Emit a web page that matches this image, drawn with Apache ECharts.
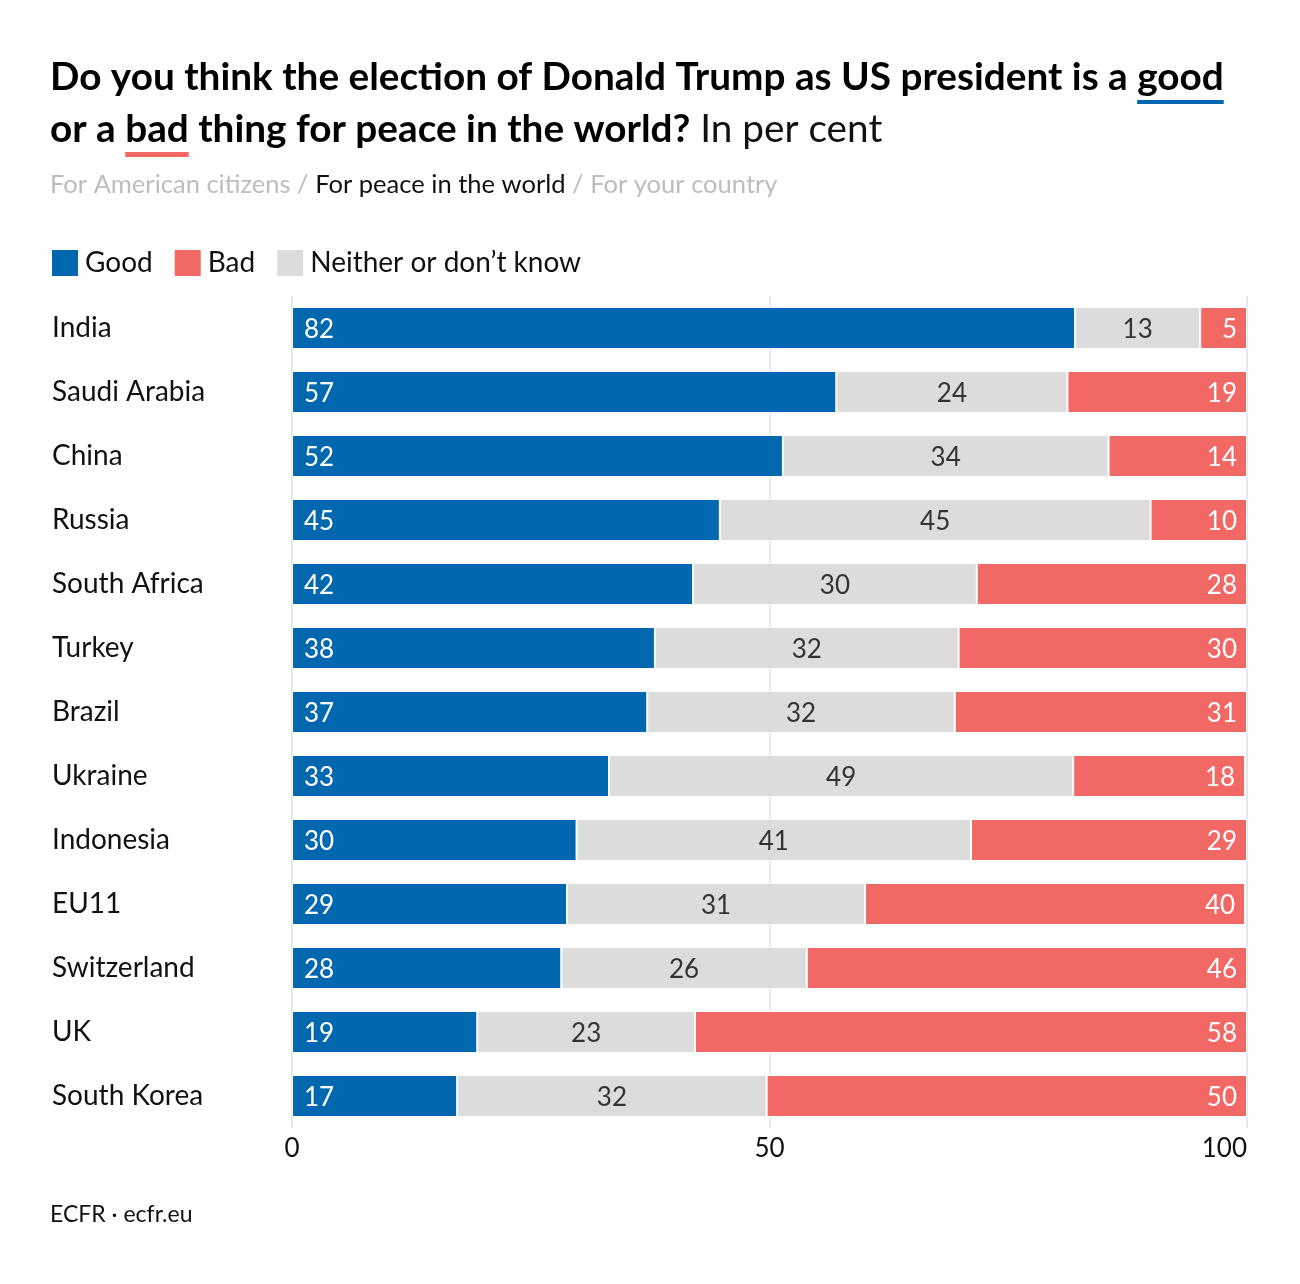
<!DOCTYPE html>
<html><head><meta charset="utf-8">
<script src="https://cdn.jsdelivr.net/npm/echarts@6/dist/echarts.min.js"></script>
<style>html,body{margin:0;padding:0;background:#fff}#c{width:1300px;height:1284px}</style>
</head><body><div id="c"></div>
<script>
const countries = ['India','Saudi Arabia','China','Russia','South Africa','Turkey','Brazil','Ukraine','Indonesia','EU11','Switzerland','UK','South Korea'];
// bar lengths (per cent)
const good    = [82.0,57.0,51.4,44.8,42.0,38.0,37.2,33.2,29.8,28.8,28.2,19.4,17.3];
const neither = [13.1,24.2,34.1,45.1,29.7,31.8,32.2,48.6,41.3,31.2,25.7,22.8,32.4];
const bad     = [4.9,18.8,14.5,10.1,28.3,30.2,30.6,18.0,28.9,39.8,46.1,57.8,50.3];
// printed labels
const goodLabels    = [82,57,52,45,42,38,37,33,30,29,28,19,17];
const neitherLabels = [13,24,34,45,30,32,32,49,41,31,26,23,32];
const badLabels     = [5,19,14,10,28,30,31,18,29,40,46,58,50];
const axisTicks = [0,50,100];

const FONT = 'Lato';
const BLUE = '#0168B0', RED = '#F26865', GREY = '#DCDCDC';

const ctx = document.createElement('canvas').getContext('2d');
function tw(t, f){ ctx.font = f; return ctx.measureText(t).width; }

const line1a = 'Do you think the election of Donald Trump as US president is a ';
const line1b = 'good';
const line2a = 'or a ';
const line2b = 'bad';
const line2c = ' thing for peace in the world?';
let ts = 34;
ts = Math.min(40, ts * 1174 / tw(line1a + line1b, 'bold 34px ' + FONT));
const tf = 'bold ' + ts + 'px ' + FONT;
const goodX = 50 + tw(line1a, tf), goodW = tw(line1b, tf);
const badX = 50 + tw(line2a, tf), badW = tw(line2b, tf);

const subText = 'For American citizens / For peace in the world / For your country';
const ss = Math.min(28, 24 * 728 / tw(subText, '24px ' + FONT));

const chart = echarts.init(document.getElementById('c'));
const lbl = {fontFamily: FONT, fontSize: 26, offset: [0, 2]};
function fmt(arr){ return p => String(arr[p.dataIndex]); }
chart.setOption({
  animation: false,
  textStyle: {fontFamily: FONT},
  title: [{
    left: 50, top: 52, padding: 0,
    text: '{b|' + line1a + line1b + '}\n{b|' + line2a + line2b + line2c + '}{n| In per cent}',
    textStyle: {
      rich: {
        b: {fontFamily: FONT, fontWeight: 'bold', fontSize: ts, color: '#000', lineHeight: 52},
        n: {fontFamily: FONT, fontWeight: 'normal', fontSize: ts, color: '#111', lineHeight: 52}
      }
    }
  }, {
    left: 50, top: 170, padding: 0,
    text: '{g|For American citizens / }{k|For peace in the world}{g| / For your country}',
    textStyle: {
      rich: {
        g: {fontFamily: FONT, fontWeight: 'normal', fontSize: ss, color: '#BDBDBD', lineHeight: 30},
        k: {fontFamily: FONT, fontWeight: 'normal', fontSize: ss, color: '#111', lineHeight: 30}
      }
    }
  }, {
    left: 50, top: 1203, padding: 0,
    text: 'ECFR · ecfr.eu',
    textStyle: {fontFamily: FONT, fontSize: 23, fontWeight: 'normal', color: '#111'}
  }],
  graphic: [
    {type: 'rect', shape: {x: goodX, y: 100, width: goodW, height: 4}, style: {fill: BLUE}},
    {type: 'rect', shape: {x: badX, y: 152, width: badW, height: 5}, style: {fill: RED}}
  ],
  legend: {
    left: 50, top: 248, padding: 0,
    itemWidth: 28, itemHeight: 28, itemGap: 20,
    icon: 'rect',
    data: ['Good', 'Bad', 'Neither or don\u2019t know'],
    textStyle: {fontFamily: FONT, fontSize: 28, color: '#111', padding: [0, 0, 0, 1]},
    selectedMode: false
  },
  grid: {left: 292, right: 53, top: 296, height: 832, containLabel: false},
  xAxis: {
    type: 'value', min: 0, max: 100, interval: 50,
    axisLine: {show: false}, axisTick: {show: false},
    splitLine: {show: true, lineStyle: {color: '#E8E8E8', width: 2}},
    axisLabel: {fontFamily: FONT, fontSize: 26, color: '#111', margin: 8, alignMaxLabel: 'right',
      customValues: axisTicks}
  },
  yAxis: {
    type: 'category', data: countries, inverse: true,
    axisLine: {show: false}, axisTick: {show: false},
    axisLabel: {fontFamily: FONT, fontSize: 28, color: '#111', align: 'left', margin: 240,
      padding: [4, 0, 0, 0]}
  },
  series: [
    {name: 'Good', type: 'bar', stack: 's', data: good, barWidth: 42,
      itemStyle: {color: BLUE, borderColor: '#fff', borderWidth: 1},
      label: {show: true, position: 'insideLeft', distance: 12, color: '#fff', formatter: fmt(goodLabels), ...lbl}},
    {name: 'Neither or don\u2019t know', type: 'bar', stack: 's', data: neither, barWidth: 42,
      itemStyle: {color: GREY, borderColor: '#fff', borderWidth: 1},
      label: {show: true, position: 'inside', color: '#333', formatter: fmt(neitherLabels), ...lbl}},
    {name: 'Bad', type: 'bar', stack: 's', data: bad, barWidth: 42,
      itemStyle: {color: RED, borderColor: '#fff', borderWidth: 1},
      label: {show: true, position: 'insideRight', distance: 10, color: '#fff', formatter: fmt(badLabels), ...lbl}}
  ]
});
</script></body></html>
